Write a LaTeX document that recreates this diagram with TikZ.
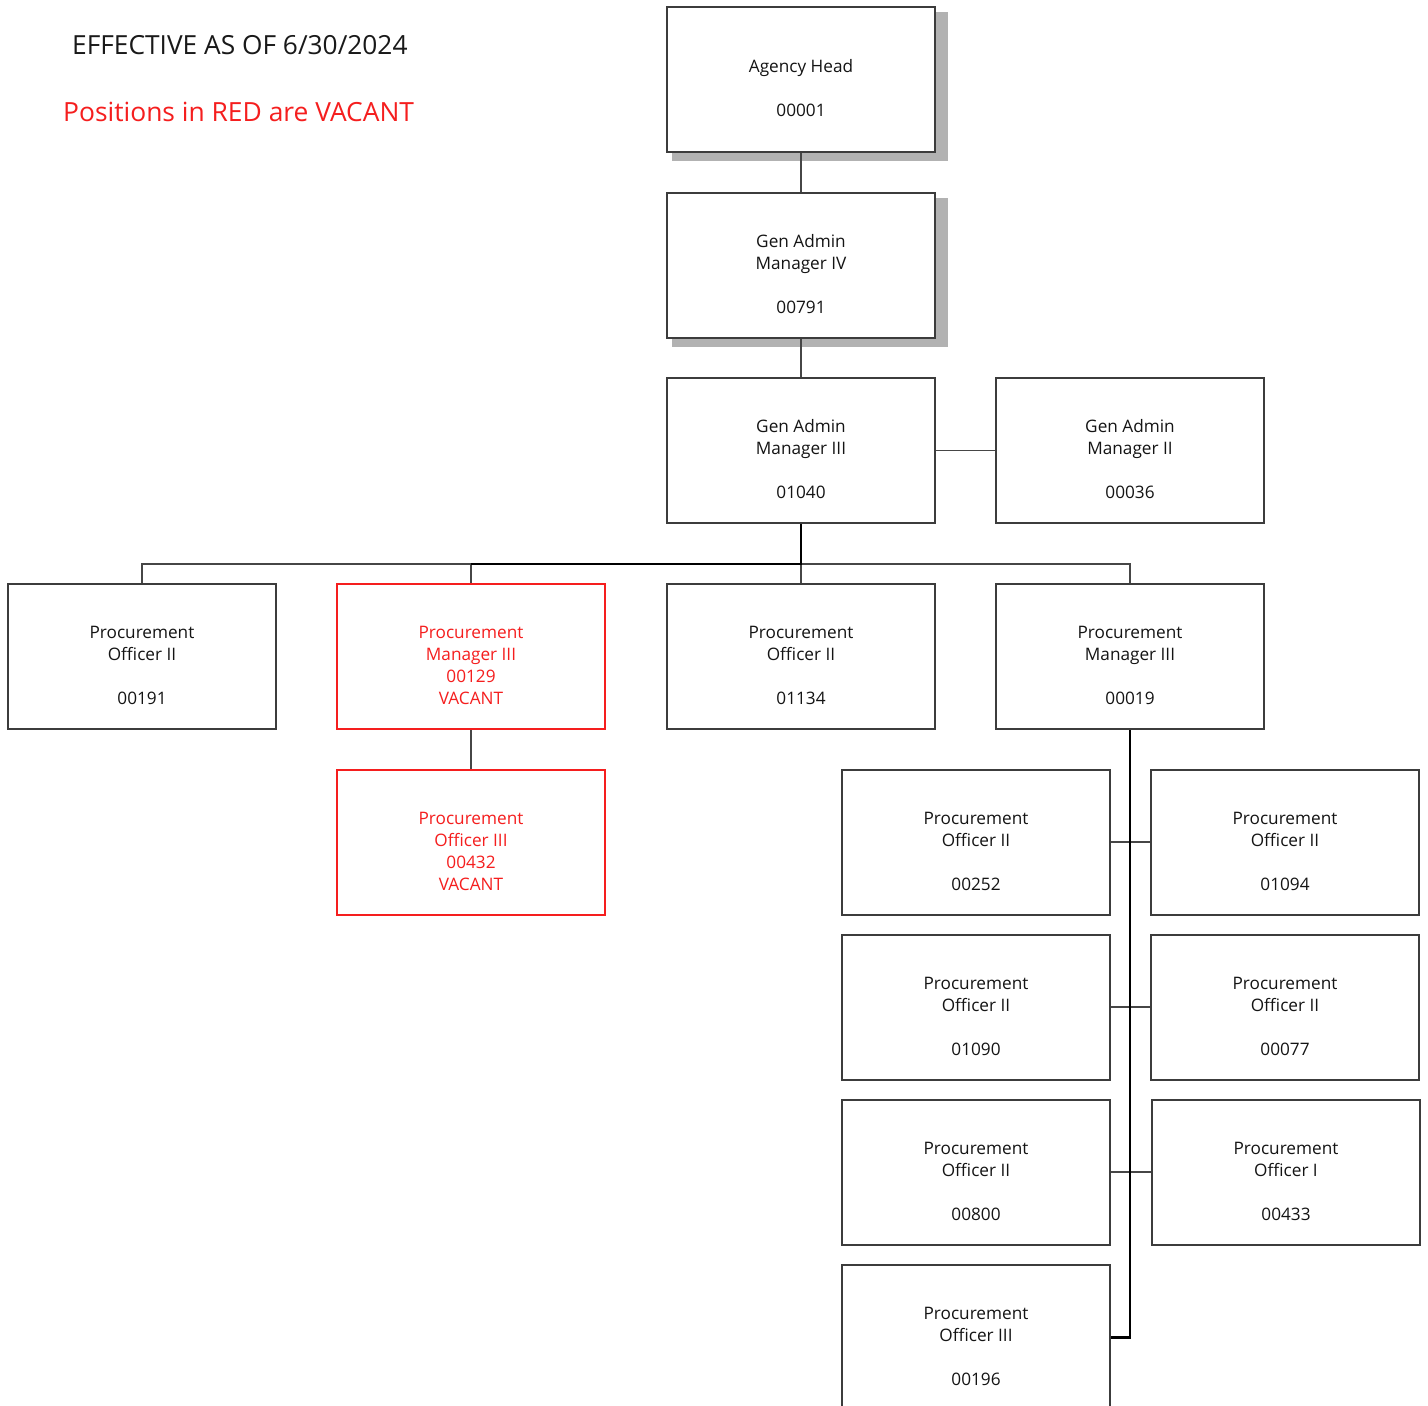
\documentclass[tikz,border=0pt]{standalone}
\usepackage{fontspec}
\setmainfont{Open Sans}
\definecolor{boxline}{RGB}{60,60,60}
\definecolor{wire}{RGB}{70,70,70}
\definecolor{vacant}{RGB}{245,30,30}
\definecolor{shade}{RGB}{178,178,178}
\tikzset{
  x=1pt, y=-1pt,
  posbox/.style={rectangle, draw=boxline, line width=2pt, fill=white,
    minimum width=268pt, minimum height=145pt, inner sep=0pt},
  vacbox/.style={posbox, draw=vacant},
  postext/.style={align=center, inner sep=0pt, text=black!92,
    font=\fontsize{17.2}{22}\selectfont},
  vactext/.style={postext, text=vacant},
  wire/.style={draw=wire, line width=1.8pt},
  trunk/.style={draw=black, line width=2.6pt},
  shadowbox/.style={fill=shade, draw=none}
}
% box with its caption set a little below the centre
\newcommand{\orgbox}[5]{%
  \node[#1] (#2) at (#3) {};
  \node[#4] (#2-t) at ([yshift=-9pt]#2.center) {#5};
}
\begin{document}
\begin{tikzpicture}
\clip (0,0) rectangle (1428,1406);
\fill[white] (0,0) rectangle (1428,1406);

% header notes
\node[anchor=base west, inner sep=0pt, font=\fontsize{26.3}{30}\selectfont, text=black!90] (effective) at (72,54) {EFFECTIVE AS OF 6/30/2024};
\node[anchor=base west, inner sep=0pt, font=\fontsize{26.4}{32}\selectfont, text=vacant] (legend) at (63,121) {Positions in RED are VACANT};

% drop shadows of the two top positions
\fill[shadowbox] (672,12) rectangle (948,161);
\fill[shadowbox] (672,198) rectangle (948,347);

% executive chain
\orgbox{posbox}{ah}{801,79.5}{postext}{Agency Head\\[22pt]00001}
\orgbox{posbox}{m4}{801,265.5}{postext}{Gen Admin\\Manager IV\\[22pt]00791}
\orgbox{posbox}{m3}{801,450.5}{postext}{Gen Admin\\Manager III\\[22pt]01040}
\orgbox{posbox}{m2}{1130,450.5}{postext}{Gen Admin\\Manager II\\[22pt]00036}

% procurement level
\orgbox{posbox}{p191}{142,656.5}{postext}{Procurement\\Officer II\\[22pt]00191}
\orgbox{vacbox}{p129}{471,656.5}{vactext}{Procurement\\Manager III\\00129\\VACANT}
\orgbox{posbox}{p1134}{801,656.5}{postext}{Procurement\\Officer II\\[22pt]01134}
\orgbox{posbox}{p19}{1130,656.5}{postext}{Procurement\\Manager III\\[22pt]00019}

\orgbox{vacbox}{p432}{471,842}{vactext}{Procurement\\Officer III\\00432\\VACANT}

% staff of 00019
\orgbox{posbox}{p252}{976,842}{postext}{Procurement\\Officer II\\[22pt]00252}
\orgbox{posbox}{p1094}{1285,842}{postext}{Procurement\\Officer II\\[22pt]01094}
\orgbox{posbox}{p1090}{976,1007}{postext}{Procurement\\Officer II\\[22pt]01090}
\orgbox{posbox}{p77}{1285,1007}{postext}{Procurement\\Officer II\\[22pt]00077}
\orgbox{posbox}{p800}{976,1172}{postext}{Procurement\\Officer II\\[22pt]00800}
\orgbox{posbox}{p433}{1286,1172}{postext}{Procurement\\Officer I\\[22pt]00433}
\orgbox{posbox}{p196}{976,1337.5}{postext}{Procurement\\Officer III\\[22pt]00196}

% connectors
\coordinate (bus) at (801,564);
\draw[wire] (ah.south) -- (m4.north);
\draw[wire] (m4.south) -- (m3.north);
\draw[wire] (m3.east) -- (m2.west);
\draw[wire] (bus) -| (p191.north);
\draw[wire] (bus) -| (p19.north);
\draw[wire] (bus) -- (p1134.north);
\draw[wire] (bus) -| (p129.north);
\draw[trunk] (m3.south) -- (bus) -- (bus -| p129.north);
\draw[wire] (p129.south) -- (p432.north);
\draw[wire] (p252.east) -- (p1094.west);
\draw[wire] (p1090.east) -- (p77.west);
\draw[wire] (p800.east) -- (p433.west);
\draw[trunk, line width=2.2pt] (p19.south) |- (p196.east);
\end{tikzpicture}
\end{document}
